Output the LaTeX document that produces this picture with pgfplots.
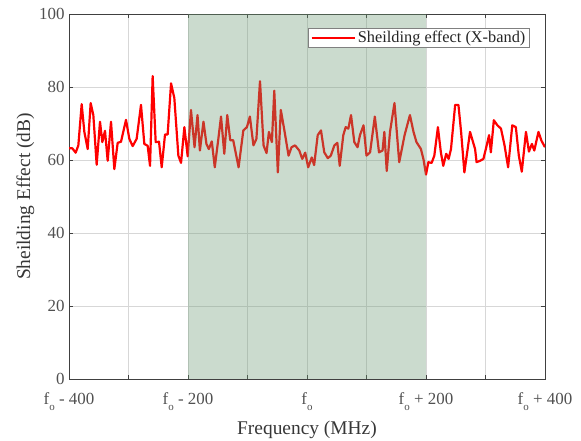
\documentclass[border=0pt]{standalone}
\usepackage{pgfplots}
\pgfplotsset{compat=1.18}
\usepackage{fontspec}
\setmainfont{Liberation Serif}

\definecolor{axisgray}{RGB}{64,64,64}
\definecolor{labelgray}{RGB}{55,55,55}
\definecolor{tickgray}{RGB}{80,80,80}
\definecolor{gridgray}{RGB}{215,215,215}
\definecolor{bandgreen}{rgb}{0.42,0.60,0.45}

% f_o with a low subscript, as used in the frequency tick labels
\newcommand{\fo}{f\raisebox{-0.75ex}{\fontsize{11}{11}\selectfont o}}

% legend sample: a plain 43bp stroke
\pgfplotsset{
  /pgfplots/long line legend/.style={
    legend image code/.code={\draw[##1] (0bp,0bp) -- (43bp,0bp);}
  }
}

% Shielding effectiveness across the X-band sweep (MHz offset from f_o, dB)
\pgfplotstableread{
x se
-400 63.2
-394.4 63.2
-388.8 62.0
-384.3 64.0
-378.7 75.3
-374.2 67.7
-368.6 63.0
-363.6 75.6
-359.1 72.3
-353.5 58.7
-347.9 70.5
-344 64.9
-339.5 68.0
-335 59.8
-329.4 70.5
-323.8 57.5
-318.2 64.7
-312.6 65.0
-304.2 71.0
-298.6 65.8
-293 63.8
-286.3 65.8
-279 75.1
-273.4 64.4
-267.8 63.9
-263.8 58.4
-259.4 83.0
-254.3 64.9
-248.7 65.0
-244.2 58.0
-238.6 67.0
-234.2 67.0
-228.5 81.0
-223 77.0
-216.2 61.2
-211.7 59.2
-206.1 69.0
-200.5 61.0
-195 73.7
-189 63.5
-184 72.3
-180 62.6
-174 70.5
-169 64.4
-165 63.0
-160 65.1
-155 58.0
-149 65.8
-144.5 71.9
-139 61.7
-134 72.3
-129 65.4
-124 65.4
-115 58.0
-107 68.1
-101 69.0
-96 71.9
-90 64.0
-85 65.8
-79 81.6
-73 64.0
-68 61.9
-64 67.7
-59 64.9
-55 79.0
-49 56.6
-44 73.7
-38 68.1
-31 61.2
-26 63.5
-20 64.0
-13 62.6
-8 60.3
-3 62.0
2 58.0
8 60.7
12 58.6
18 66.8
23.5 68.1
29 62.1
35 60.5
40 61.2
46 64.0
51 64.7
55 58.4
61 66.8
65 69.0
69.5 68.6
74 72.3
79.5 64.9
85 63.5
89 66.8
95 69.5
100 61.2
106 62.1
114 71.9
121 62.1
127 62.6
130 67.7
134 57.0
139.5 67.7
147 75.6
155 59.4
164 66.8
173 72.3
179 67.7
184 64.9
191.5 63.0
196 60.0
200 56.0
204 59.4
209.5 59.2
214 61.2
220 69.0
225 62.1
229 58.4
234 61.7
238 60.3
242 63.0
249 75.1
254.5 75.1
259 67.7
264.5 56.6
274 67.7
282.5 63.0
285 59.4
291 59.8
296.5 60.3
302 64.0
306 66.8
309 62.1
314 70.9
320 69.5
326 68.6
332 64.0
338 58.0
345 69.5
351 69.0
356 61.2
361 56.8
368 67.7
373 62.3
378 64.4
382 62.6
389 67.7
394 65.3
400 63.5
}\shielding

\begin{document}
\begin{tikzpicture}
\begin{axis}[
  scale only axis,
  width=476bp, height=365bp,
  xmin=-400, xmax=400, ymin=0, ymax=100,
  xtick={-400,-300,...,400},
  xticklabels={\fo\ - 400,,\fo\ - 200,,\fo,,\fo\ + 200,,\fo\ + 400},
  ytick={0,20,...,100},
  tick align=inside,
  major tick length=4bp,
  tick style={axisgray, line width=0.6pt},
  axis line style={axisgray, line width=0.9pt},
  grid=major,
  major grid style={gridgray, line width=0.7pt},
  /pgf/number format/assume math mode=true,
  ticklabel style={font=\fontsize{17}{19}\selectfont, text=tickgray},
  xticklabel style={yshift=-10bp},
  yticklabel style={xshift=-1bp},
  xlabel={Frequency (MHz)},
  ylabel={Sheilding Effect (dB)},
  label style={font=\fontsize{19.5}{21}\selectfont, text=labelgray},
  xlabel style={yshift=-4bp},
  ylabel style={yshift=-2bp},
  legend style={at={(0.968,0.962)}, anchor=north east,
    draw=gray, fill=white, line width=0.8pt,
    font=\fontsize{16.4}{18}\selectfont, text=black!85,
    inner xsep=2bp, inner ysep=1bp},
  legend cell align=left,
]
\addplot[red, line width=2.2pt, line join=round, long line legend]
  table[x=x, y=se] {\shielding};
\addlegendentry{Sheilding effect (X-band)}
% operating band f_o +/- 200 MHz, tinted over the trace
\addplot[draw=none, fill=bandgreen, fill opacity=0.35, forget plot]
  coordinates {(-200,0) (-200,100) (200,100) (200,0)} -- cycle;
\end{axis}
\pgfresetboundingbox
\path[use as bounding box]
  ([xshift=-69bp,yshift=-62bp]current axis.south west)
  rectangle ([xshift=36bp,yshift=14bp]current axis.north east);
\end{tikzpicture}
\end{document}
